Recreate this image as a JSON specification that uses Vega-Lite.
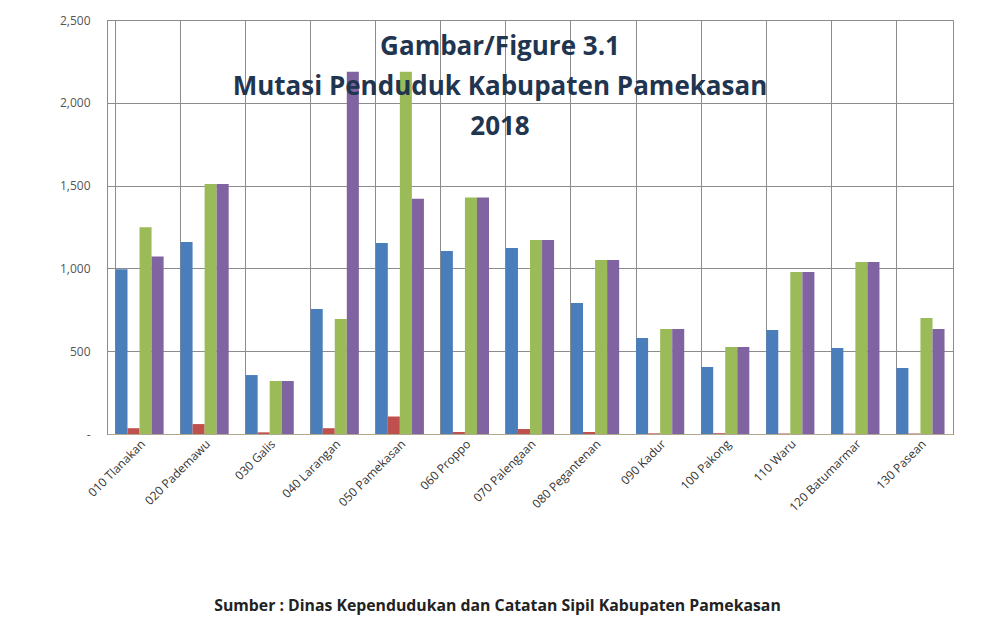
{
  "$schema": "https://vega.github.io/schema/vega-lite/v6.json",
  "autosize": {"type": "none"},
  "width": 846,
  "height": 414,
  "padding": {"left": 107, "top": 20, "right": 31, "bottom": 193},
  "background": "white",
  "title": {
    "text": ["Gambar/Figure 3.1", "Mutasi Penduduk Kabupaten Pamekasan", "2018"],
    "font": "Open Sans",
    "fontSize": 26,
    "fontWeight": "bold",
    "color": "#1F3550",
    "lineHeight": 40,
    "baseline": "top",
    "anchor": "middle",
    "frame": "group",
    "dx": -30,
    "offset": -126
  },
  "data": {
    "values": [
      {"kec": "010 Tlanakan", "s": "Lahir", "v": 995},
      {"kec": "010 Tlanakan", "s": "Mati", "v": 35},
      {"kec": "010 Tlanakan", "s": "Datang", "v": 1248},
      {"kec": "010 Tlanakan", "s": "Pindah", "v": 1072},
      {"kec": "020 Pademawu", "s": "Lahir", "v": 1160},
      {"kec": "020 Pademawu", "s": "Mati", "v": 60},
      {"kec": "020 Pademawu", "s": "Datang", "v": 1510},
      {"kec": "020 Pademawu", "s": "Pindah", "v": 1510},
      {"kec": "030 Galis", "s": "Lahir", "v": 356},
      {"kec": "030 Galis", "s": "Mati", "v": 10},
      {"kec": "030 Galis", "s": "Datang", "v": 320},
      {"kec": "030 Galis", "s": "Pindah", "v": 320},
      {"kec": "040 Larangan", "s": "Lahir", "v": 755},
      {"kec": "040 Larangan", "s": "Mati", "v": 35},
      {"kec": "040 Larangan", "s": "Datang", "v": 694},
      {"kec": "040 Larangan", "s": "Pindah", "v": 2188},
      {"kec": "050 Pamekasan", "s": "Lahir", "v": 1153},
      {"kec": "050 Pamekasan", "s": "Mati", "v": 105},
      {"kec": "050 Pamekasan", "s": "Datang", "v": 2188},
      {"kec": "050 Pamekasan", "s": "Pindah", "v": 1420},
      {"kec": "060 Proppo", "s": "Lahir", "v": 1105},
      {"kec": "060 Proppo", "s": "Mati", "v": 12},
      {"kec": "060 Proppo", "s": "Datang", "v": 1428},
      {"kec": "060 Proppo", "s": "Pindah", "v": 1428},
      {"kec": "070 Palengaan", "s": "Lahir", "v": 1123},
      {"kec": "070 Palengaan", "s": "Mati", "v": 30},
      {"kec": "070 Palengaan", "s": "Datang", "v": 1171},
      {"kec": "070 Palengaan", "s": "Pindah", "v": 1171},
      {"kec": "080 Pegantenan", "s": "Lahir", "v": 791},
      {"kec": "080 Pegantenan", "s": "Mati", "v": 12},
      {"kec": "080 Pegantenan", "s": "Datang", "v": 1051},
      {"kec": "080 Pegantenan", "s": "Pindah", "v": 1051},
      {"kec": "090 Kadur", "s": "Lahir", "v": 580},
      {"kec": "090 Kadur", "s": "Mati", "v": 4},
      {"kec": "090 Kadur", "s": "Datang", "v": 634},
      {"kec": "090 Kadur", "s": "Pindah", "v": 634},
      {"kec": "100 Pakong", "s": "Lahir", "v": 405},
      {"kec": "100 Pakong", "s": "Mati", "v": 5},
      {"kec": "100 Pakong", "s": "Datang", "v": 525},
      {"kec": "100 Pakong", "s": "Pindah", "v": 525},
      {"kec": "110 Waru", "s": "Lahir", "v": 628},
      {"kec": "110 Waru", "s": "Mati", "v": 3},
      {"kec": "110 Waru", "s": "Datang", "v": 978},
      {"kec": "110 Waru", "s": "Pindah", "v": 978},
      {"kec": "120 Batumarmar", "s": "Lahir", "v": 519},
      {"kec": "120 Batumarmar", "s": "Mati", "v": 2},
      {"kec": "120 Batumarmar", "s": "Datang", "v": 1039},
      {"kec": "120 Batumarmar", "s": "Pindah", "v": 1039},
      {"kec": "130 Pasean", "s": "Lahir", "v": 398},
      {"kec": "130 Pasean", "s": "Mati", "v": 3},
      {"kec": "130 Pasean", "s": "Datang", "v": 700},
      {"kec": "130 Pasean", "s": "Pindah", "v": 634}
    ]
  },
  "mark": {"type": "bar"},
  "encoding": {
    "x": {
      "field": "kec",
      "type": "nominal",
      "sort": null,
      "scale": {"paddingInner": 0.26, "paddingOuter": 0.13},
      "axis": {
        "title": "Sumber : Dinas Kependudukan dan Catatan Sipil  Kabupaten Pamekasan",
        "titleFont": "Open Sans",
        "titleFontSize": 15.8,
        "titleFontWeight": "bold",
        "titleColor": "#222222",
        "titleX": 390,
        "titleY": 171,
        "titleBaseline": "middle",
        "titleAnchor": "middle",
        "labelAngle": -45,
        "labelFont": "Open Sans",
        "labelFontSize": 12,
        "labelColor": "#333333",
        "labelPadding": 4,
        "ticks": false,
        "domain": true,
        "domainColor": "#b0a890",
        "grid": true,
        "bandPosition": 0,
        "gridColor": "#8c8c8c",
        "gridWidth": 1
      }
    },
    "xOffset": {
      "field": "s",
      "type": "nominal",
      "sort": ["Lahir", "Mati", "Datang", "Pindah"],
      "scale": {"paddingInner": 0, "paddingOuter": 0}
    },
    "y": {
      "field": "v",
      "type": "quantitative",
      "scale": {"domain": [0, 2500]},
      "axis": {
        "title": null,
        "values": [0, 500, 1000, 1500, 2000, 2500],
        "labelExpr": "datum.value == 0 ? '-' : format(datum.value, ',')",
        "labelFont": "Open Sans",
        "labelFontSize": 12,
        "labelColor": "#555555",
        "labelPadding": 17,
        "ticks": false,
        "domain": true,
        "domainColor": "#8c8c8c",
        "gridColor": "#8c8c8c",
        "gridWidth": 1
      }
    },
    "color": {
      "field": "s",
      "type": "nominal",
      "sort": ["Lahir", "Mati", "Datang", "Pindah"],
      "scale": {
        "domain": ["Lahir", "Mati", "Datang", "Pindah"],
        "range": ["#4A7EBB", "#C0504D", "#9BBB59", "#8064A2"]
      },
      "legend": null
    }
  },
  "config": {
    "view": {"stroke": "#8c8c8c", "strokeWidth": 1}
  }
}
